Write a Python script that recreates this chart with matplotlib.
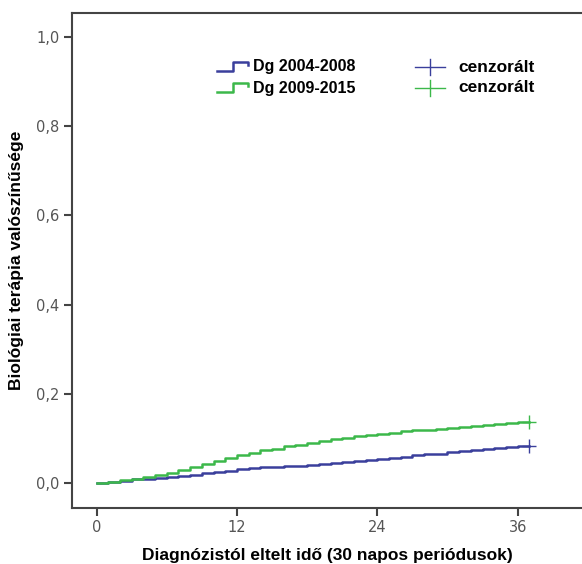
import numpy as np
import matplotlib
matplotlib.use("Agg")
import matplotlib.pyplot as plt
from matplotlib.lines import Line2D

# monthly (30-day period) step values of the cumulative probability
months = np.arange(0, 38)
dg_2004_2008 = [0.000, 0.003, 0.005, 0.008, 0.010, 0.012, 0.014, 0.016, 0.019, 0.022,
                0.025, 0.028, 0.031, 0.033, 0.035, 0.036, 0.038, 0.039, 0.041, 0.043,
                0.045, 0.047, 0.049, 0.051, 0.054, 0.057, 0.059, 0.062, 0.064, 0.066,
                0.069, 0.071, 0.073, 0.076, 0.078, 0.080, 0.082, 0.084]
dg_2009_2015 = [0.000, 0.003, 0.006, 0.010, 0.014, 0.018, 0.023, 0.030, 0.036, 0.043,
                0.050, 0.056, 0.063, 0.068, 0.073, 0.077, 0.082, 0.086, 0.090, 0.094,
                0.098, 0.101, 0.105, 0.108, 0.111, 0.113, 0.116, 0.118, 0.120, 0.122,
                0.124, 0.126, 0.128, 0.130, 0.132, 0.134, 0.136, 0.137]
series_labels = ["Dg 2004-2008", "Dg 2009-2015"]
censor_label = "cenzorált"
xticks = [0, 12, 24, 36]
yticks = [0.0, 0.2, 0.4, 0.6, 0.8, 1.0]

blue = "#3a3f9c"
green = "#3cb84a"
spine_col = "#444444"

fig = plt.figure(figsize=(5.82, 5.64), dpi=100)
ax = fig.add_axes([72/582, 56/564, 1 - 72/582, (508 - 13)/564])

for vals, col in [(dg_2004_2008, blue), (dg_2009_2015, green)]:
    ax.step(months, vals, where="post", color=col, lw=1.8)
    ax.plot(months[-1], vals[-1], marker="+", color=col, ms=10, mew=1.0)

ax.set_xlim(-2.1, 41.5)
ax.set_ylim(-0.056, 1.054)
ax.set_xticks(xticks)
ax.set_yticks(yticks)
ax.set_yticklabels([f"{v:.1f}".replace(".", ",") for v in yticks])
ax.tick_params(axis="both", direction="out", length=6, width=1.5, color=spine_col,
               labelcolor="#555555", labelsize=10.5, pad=3)
for s in ["left", "bottom", "top"]:
    ax.spines[s].set_color(spine_col)
    ax.spines[s].set_linewidth(1.5)
ax.spines["right"].set_visible(False)

ax.set_xlabel("Diagnózistól eltelt idő (30 napos periódusok)", fontsize=12.5,
              fontweight="bold", labelpad=9, family="Liberation Sans")
ax.set_ylabel("Biológiai terápia valószínűsége", fontsize=12.5,
              fontweight="bold", labelpad=9, family="Liberation Sans")

# manual legend
def px(x, y):
    return x / 582, 1 - y / 564

for yc, col, lab in [(67, blue, series_labels[0]), (88, green, series_labels[1])]:
    xs = [217, 233, 233, 248, 248]
    ys = [yc + 3.5, yc + 3.5, yc - 5.5, yc - 5.5, yc - 2.5]
    pts = [px(a, b) for a, b in zip(xs, ys)]
    fig.add_artist(Line2D([p[0] for p in pts], [p[1] for p in pts], color=col, lw=1.8,
                          transform=fig.transFigure))
    tx, ty = px(253, yc)
    fig.text(tx, ty, lab, fontsize=11.5, fontweight="bold", va="center", ha="left",
             family="Liberation Sans")
    fig.add_artist(Line2D([415/582, 445/582], [ty, ty], color=col, lw=1.0,
                          transform=fig.transFigure))
    fig.add_artist(Line2D([430/582, 430/582], [ty - 8/564, ty + 8/564], color=col, lw=1.0,
                          transform=fig.transFigure))
    cx, _ = px(458, yc)
    fig.text(cx, ty, censor_label, fontsize=12.5, fontweight="bold", va="center", ha="left",
             family="Liberation Sans")

fig.savefig("out.png", dpi=100)
